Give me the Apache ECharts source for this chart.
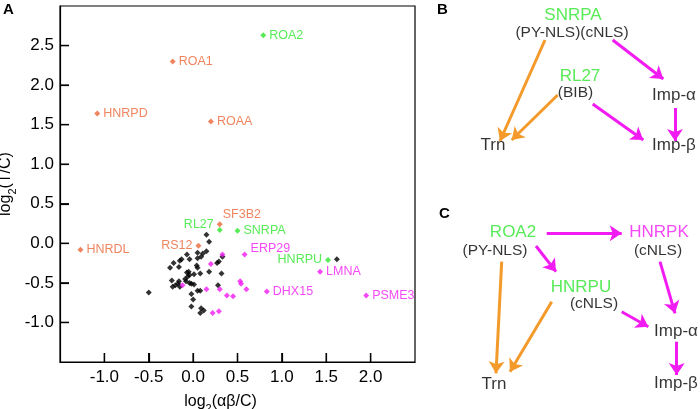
<!DOCTYPE html>
<html><head><meta charset="utf-8">
<script src="https://cdn.jsdelivr.net/npm/echarts@6/dist/echarts.min.js"></script>
<style>html,body{margin:0;padding:0;background:#fff}#c{width:700px;height:409px}</style>
</head><body><div id="c"></div>
<script>
// ---- Panel A data ----
const orangeNames = ['ROA1','HNRPD','ROAA','HNRDL','RS12','SF3B2'];
const orangeX = [-0.23,-1.08,0.20,-1.27,0.06,0.30];
const orangeY = [2.30,1.64,1.54,-0.08,-0.03,0.24];
const greenNames = ['ROA2','RL27','SNRPA','HNRPU'];
const greenX = [0.79,0.30,0.50,1.52];
const greenY = [2.63,0.17,0.16,-0.21];
const magentaNames = ['ERP29','LMNA','DHX15','PSME3'];
const magentaX = [0.58,1.43,0.83,1.95];
const magentaY = [-0.14,-0.36,-0.61,-0.66];
const magentaOtherX = [0.20,0.33,-0.12,0.15,0.30,0.38,0.45,0.53,0.54,0.60,0.22,0.29];
const magentaOtherY = [-0.26,-0.14,-0.53,-0.58,-0.58,-0.66,-0.67,-0.48,-0.51,-0.58,-0.88,-0.86];
const blackX = [0.15,0.18,0.05,0.11,0.15,0.09,-0.07,0.33,-0.22,-0.15,-0.13,-0.04,0.05,-0.26,-0.16,0.04,0.05,0.18,0.27,0.29,0.32,-0.07,-0.05,-0.04,-0.06,0.01,0.08,-0.09,-0.08,-0.04,-0.02,0.01,-0.24,-0.16,-0.17,-0.23,-0.20,-0.15,-0.50,0.05,0.08,0.28,-0.02,0.00,-0.02,0.09,0.12,0.08,1.62];
const blackY = [0.11,0.02,-0.12,-0.13,-0.10,-0.17,-0.14,-0.17,-0.25,-0.22,-0.20,-0.20,-0.19,-0.31,-0.30,-0.28,-0.31,-0.36,-0.25,-0.23,-0.38,-0.37,-0.36,-0.40,-0.42,-0.39,-0.38,-0.45,-0.48,-0.50,-0.51,-0.52,-0.47,-0.48,-0.51,-0.55,-0.53,-0.55,-0.62,-0.60,-0.60,-0.53,-0.64,-0.71,-0.80,-0.82,-0.85,-0.88,-0.20];
const xRange = [-1.5, 2.5];
const yRange = [-1.5, 3.0];
const tickStep = 0.5;
const xTickValues = [-1.0,-0.5,0.0,0.5,1.0,1.5,2.0];
const yTickValues = [-1.0,-0.5,0.0,0.5,1.0,1.5,2.0,2.5];

// ---- Panels B/C diagram (text, x, y, kind) ----
const diagramNodes = [
  ['SNRPA',573,15,'green'], ['(PY-NLS)(cNLS)',572,33,'paren'],
  ['RL27',580,76,'green'], ['(BIB)',575.5,93,'paren'],
  ['Imp-α',674,95,'black'], ['Trn',493,145,'black'], ['Imp-β',674,145,'black'],
  ['ROA2',513,232.5,'green'], ['(PY-NLS)',495,251,'paren'],
  ['HNRPK',659,232.5,'magenta'], ['(cNLS)',658,251,'paren'],
  ['HNRPU',581,287,'green'], ['(cNLS)',594,304,'paren'],
  ['Imp-α',676,331,'black'], ['Trn',494,384,'black'], ['Imp-β',676,383,'black']
];
// arrows: x1, y1, x2, y2, kind
const diagramArrows = [
  [545,40,500,141,'orange'], [557.7,95,511.7,140,'orange'],
  [612.7,40,663.3,79,'magenta'], [592.7,104,643.3,140,'magenta'], [675,108,675,141,'magenta'],
  [546.7,233.3,621.7,233.3,'magenta'], [536,246,556,271.7,'magenta'],
  [660,261.7,675,313.3,'magenta'], [621.7,311.7,648.3,326.7,'magenta'],
  [676.7,341.7,676.7,375,'magenta'],
  [501.7,261.7,496,373.3,'orange'], [551.7,301.7,510,371.7,'orange']
];

const COL = {orange:'#EB6637', green:'#2EE62E', magenta:'#F21BF2', arrowOrange:'#F39A2B', arrowMagenta:'#F21BF2'};
const FONT = 'Liberation Sans, Arial, Helvetica, sans-serif';
const TICK_LEN = 9;
const labelPlace = {
  RS12:{position:'left'}, RL27:{position:'left', offset:[0,-5]}, HNRPU:{position:'left'},
  SF3B2:{position:'right', offset:[-3,-10]}, ERP29:{position:'right', offset:[0,-6]}
};

function labeled(names, xs, ys, color){
  return names.map((n,i)=>{
    const p = labelPlace[n] || {position:'right'};
    return {name:n, value:[xs[i], ys[i]], label:Object.assign({show:true, formatter:'{b}', color:color, fontSize:12.5, fontFamily:FONT, distance:3}, p)};
  });
}
function pts(xs, ys){ return xs.map((x,i)=>[x, ys[i]]); }

const chart = echarts.init(document.getElementById('c'));
const scatterBase = {type:'scatter', xAxisIndex:0, yAxisIndex:0, symbol:'diamond', symbolSize:6, silent:true};
const kindStyle = {
  green:{color:COL.green, fontSize:17},
  magenta:{color:COL.magenta, fontSize:17},
  black:{color:'#000', fontSize:17},
  paren:{color:'#000', fontSize:15.5}
};
const subRich = {s:{fontSize:11, fontFamily:FONT, color:'#000', verticalAlign:'bottom', lineHeight:11, padding:[0,0,-2,0]}};
const letters = [
  {type:'text', left:3, top:2, style:{text:'A', font:'bold 15px '+FONT, fill:'#000'}},
  {type:'text', left:437, top:2, style:{text:'B', font:'bold 15px '+FONT, fill:'#000'}},
  {type:'text', left:439, top:206, style:{text:'C', font:'bold 15px '+FONT, fill:'#000'}}
];

chart.setOption({
  animation:false,
  backgroundColor:'#fff',
  grid:[
    {left:60, right:285, top:6, bottom:47, show:true, borderColor:'#000', borderWidth:1.2, containLabel:false, outerBoundsMode:'none'},
    {left:430, right:0, top:0, bottom:0, outerBoundsMode:'none'}
  ],
  xAxis:[
    {type:'value', min:xRange[0], max:xRange[1], interval:tickStep, gridIndex:0,
     splitLine:{show:false}, axisLine:{show:true, onZero:false, lineStyle:{color:'#000', width:1.2}},
     axisTick:{show:true, inside:true, length:TICK_LEN, lineStyle:{color:'#000', width:1.2}},
     axisLabel:{showMinLabel:false, showMaxLabel:false, color:'#000', fontSize:17, fontFamily:FONT, margin:7,
       formatter:v=>v.toFixed(1)},
     name:'log{s|2}(αβ/C)', nameLocation:'middle', nameGap:30, nameMoveOverlap:false,
     nameTextStyle:{color:'#000', fontSize:16, fontFamily:FONT, padding:[0,34,0,0], lineHeight:20, rich:subRich}},
    {type:'value', min:430, max:700, gridIndex:1, show:false}
  ],
  yAxis:[
    {type:'value', min:yRange[0], max:yRange[1], interval:tickStep, gridIndex:0,
     splitLine:{show:false}, axisLine:{show:true, onZero:false, lineStyle:{color:'#000', width:1.2}},
     axisTick:{show:true, inside:true, length:TICK_LEN, lineStyle:{color:'#000', width:1.2}},
     axisLabel:{showMinLabel:false, showMaxLabel:false, color:'#000', fontSize:17, fontFamily:FONT, margin:6,
       formatter:v=>v.toFixed(1)},
     name:'log{s|2}(T/C)', nameLocation:'middle', nameGap:44, nameMoveOverlap:false,
     nameTextStyle:{color:'#000', fontSize:16, fontFamily:FONT, lineHeight:20, rich:subRich}},
    {type:'value', min:0, max:409, inverse:true, gridIndex:1, show:false}
  ],
  graphic:letters,
  series:[
    Object.assign({}, scatterBase, {data:pts(blackX, blackY), itemStyle:{color:'#000'}}),
    Object.assign({}, scatterBase, {data:pts(magentaOtherX, magentaOtherY), itemStyle:{color:COL.magenta}}),
    Object.assign({}, scatterBase, {data:labeled(orangeNames, orangeX, orangeY, COL.orange), itemStyle:{color:COL.orange}}),
    Object.assign({}, scatterBase, {data:labeled(greenNames, greenX, greenY, COL.green), itemStyle:{color:COL.green}}),
    Object.assign({}, scatterBase, {data:labeled(magentaNames, magentaX, magentaY, COL.magenta), itemStyle:{color:COL.magenta}}),
    {type:'lines', coordinateSystem:'cartesian2d', xAxisIndex:1, yAxisIndex:1, silent:true,
     symbol:['none','arrow'], symbolSize:12,
     data:diagramArrows.map(a=>({coords:[[a[0],a[1]],[a[2],a[3]]],
       lineStyle:{color: a[4]==='orange'?COL.arrowOrange:COL.arrowMagenta, width:3, opacity:1}}))},
    {type:'scatter', xAxisIndex:1, yAxisIndex:1, symbolSize:1, silent:true, itemStyle:{color:'rgba(0,0,0,0)'},
     data:diagramNodes.map(n=>({name:n[0], value:[n[1],n[2]],
       label:{show:true, position:'inside', formatter:'{b}', fontFamily:FONT, textBorderWidth:0,
              color:kindStyle[n[3]].color, fontSize:kindStyle[n[3]].fontSize}}))}
  ]
});

// inward tick marks positioned through the axis scales (convertToPixel)
const tickEls = [];
xTickValues.forEach(v=>{
  const p = chart.convertToPixel({gridIndex:0}, [v, yRange[0]]);
  tickEls.push({type:'line', z:100, silent:true, shape:{x1:p[0], y1:p[1], x2:p[0], y2:p[1]-TICK_LEN},
    style:{stroke:'#000', lineWidth:1.4}});
});
yTickValues.forEach(v=>{
  const p = chart.convertToPixel({gridIndex:0}, [xRange[0], v]);
  tickEls.push({type:'line', z:100, silent:true, shape:{x1:p[0], y1:p[1], x2:p[0]+TICK_LEN, y2:p[1]},
    style:{stroke:'#000', lineWidth:1.4}});
});
chart.setOption({graphic:letters.concat(tickEls)}, {replaceMerge:['graphic']});
</script></body></html>
